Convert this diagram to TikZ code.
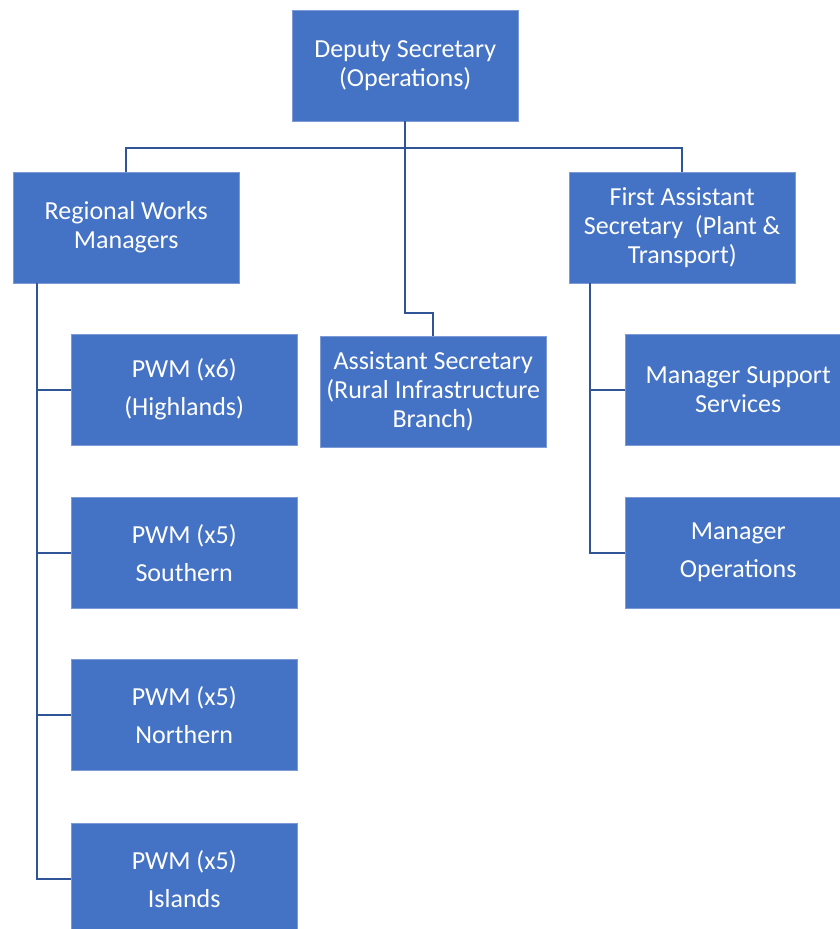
\documentclass[tikz,border=0pt]{standalone}
\usepackage{fontspec}
\setmainfont{Carlito}
\definecolor{boxblue}{HTML}{4472C4}
\definecolor{boxedge}{HTML}{7C9BD6}
\definecolor{lineblue}{HTML}{2F5597}
\begin{document}
\begin{tikzpicture}[x=1pt,y=-1pt,
  unit/.style={anchor=north west,fill=boxblue,draw=boxedge,thin,minimum width=226pt,minimum height=111pt,
    inner sep=0pt,text=white,align=center,font=\fontsize{26}{29}\selectfont},
  link/.style={draw=lineblue,line width=2pt}]
\useasboundingbox (0,0) rectangle (840,929);
\clip (0,0) rectangle (840,929);
% top level
\node[unit] (dep)  at (292,10)  {Deputy Secretary\\(Operations)};
\node[unit] (rwm)  at (13,172)  {Regional Works\\Managers};
\node[unit] (fas)  at (569,172) {First Assistant\\Secretary\ \ (Plant \&\\Transport)};
\node[unit] (asec) at (320,336) {Assistant Secretary\\(Rural Infrastructure\\Branch)};
% regional works managers
\node[unit] (hl) at (71,334) {PWM (x6)\\[9pt](Highlands)};
\node[unit] (so) at (71,497) {PWM (x5)\\[9pt]Southern};
\node[unit] (no) at (71,659) {PWM (x5)\\[9pt]Northern};
\node[unit] (is) at (71,823) {PWM (x5)\\[9pt]Islands};
% plant & transport
\node[unit] (mss) at (625,334) {Manager Support\\Services};
\node[unit] (mop) at (625,497) {Manager\\[9pt]Operations};
% connectors
\draw[link] (dep.south) -- ++(0,27) coordinate (bar);
\draw[link] (rwm.north) |- (bar) -| (fas.north);
\draw[link] (bar) -- ++(0,165) -| (asec.north);
\foreach \n in {hl,so,no,is}
  \draw[link] ([xshift=24pt]rwm.south west) |- (\n.west);
\foreach \n in {mss,mop}
  \draw[link] ([xshift=21pt]fas.south west) |- (\n.west);
\end{tikzpicture}
\end{document}
